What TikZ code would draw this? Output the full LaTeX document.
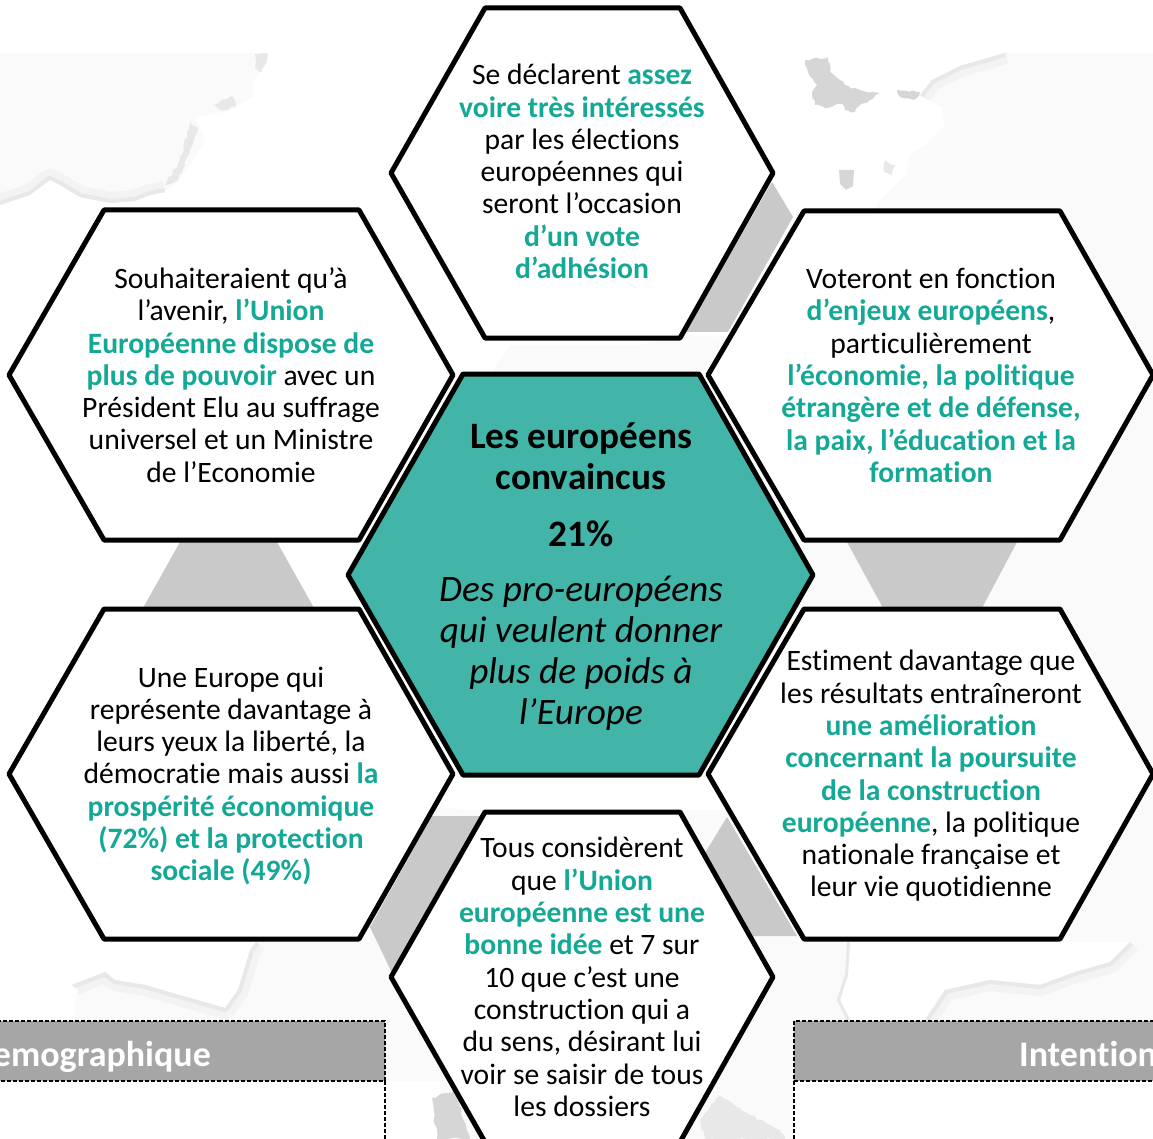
\documentclass[tikz,border=0pt]{standalone}
\usepackage{fontspec}
\usetikzlibrary{decorations.pathmorphing}
\setmainfont{Carlito}[Ligatures=NoCommon]
\definecolor{tealtxt}{HTML}{14A896}
\definecolor{tealfill}{HTML}{42B4A8}
\definecolor{barfill}{HTML}{A6A6A6}
\definecolor{linkfill}{HTML}{C9C9C9}
\definecolor{land}{HTML}{FAFAFA}
\definecolor{coastwide}{HTML}{F3F3F3}
\definecolor{coast}{HTML}{E8E8E8}
\definecolor{coastd}{HTML}{D6D6D6}
\newcommand\hl[1]{{\bfseries\color{tealtxt}#1}}
\tikzset{
 hexa/.style={draw=black,line width=5pt,line join=round,fill=white},
 hexb/.style={draw=black,line width=5pt,line join=round,fill=tealfill},
 link/.style={fill=linkfill,draw=none},
 rough/.style={decorate,decoration={random steps,segment length=4pt,amplitude=1.3pt}},
 landpart/.style={fill=land,draw=none},
 wideband/.style={draw=coastwide,line width=22pt,line join=round},
 band/.style={draw=coast,line width=8pt,line join=round},
 isle/.style={fill=coastd,draw=coastd,line width=.5pt,rough},
 bar/.style={fill=barfill,draw=black,line width=1.3pt,dash pattern=on 4pt off 2pt},
 rule/.style={draw=black,line width=1.2pt,dash pattern=on 4pt off 2pt},
 body/.style={align=center,font=\fontsize{29.6}{32.3}\selectfont,inner sep=0pt,text=black},
 bartext/.style={font=\fontsize{36}{40}\selectfont\bfseries,text=white,inner sep=0pt},
}
\def\coastA{(0,205) -- (30,195) -- (50,180) -- (60,185) -- (80,197) -- (110,203) -- (135,201) -- (150,195) -- (165,192)}
\def\coastB{(1005,53) -- (960,66) -- (932,80) -- (920,95)}
\def\coastC{(72,985) -- (105,972) -- (115,980) -- (145,985) -- (190,998) -- (225,1008) -- (238,990) -- (250,950) -- (256,942)}
\def\coastD{(925,1020) -- (945,990) -- (990,980) -- (1040,985) -- (1075,972) -- (1110,962) -- (1130,942)}
\def\coastE{(850,942) -- (848,975) -- (840,1000) -- (850,1020)}
\begin{document}
\begin{tikzpicture}[x=1pt,y=-1pt]
\useasboundingbox (0,0) rectangle (1153,1139);
\clip (0,0) rectangle (1153,1139);
% background map, upper left
\begin{scope}
\clip (0,53) -- (268,53) -- (262,70) -- (252,82) -- (255,95) -- (235,108) -- (222,112) -- (196,118) -- (205,140) -- (190,165) -- (178,182) -- (165,192) -- (150,195) -- (135,201) -- (110,203) -- (80,197) -- (60,185) -- (50,180) -- (30,195) -- (0,205) -- cycle;
\fill[land] (0,53) rectangle (270,210);
\draw[wideband] \coastA;
\draw[band] \coastA;
\end{scope}
\fill[coast,rough] (165,185) -- (180,160) -- (190,122) -- (198,128) -- (190,150) -- (178,180) -- cycle;
\fill[coast,rough] (212,105) -- (232,96) -- (236,106) -- (222,111) -- cycle;
\fill[coast,rough] (255,54) -- (268,54) -- (262,72) -- (255,68) -- cycle;
% upper right and middle land
\begin{scope}
\clip (1153,53) -- (1005,53) -- (960,66) -- (932,80) -- (920,95) -- (942,108) -- (945,125) -- (925,145) -- (910,155) -- (905,175) -- (880,200) -- (872,212) -- (800,340) -- (680,335) -- (640,345) -- (510,345) -- (490,375) -- (720,420) -- (820,700) -- (760,810) -- (470,810) -- (370,800) -- (370,1020) -- (385,1139) -- (1153,1139) -- cycle;
\fill[land] (360,50) rectangle (1153,1139);
\draw[wideband] \coastB;
\draw[band] \coastB;
\end{scope}
\fill[coastd,rough] (805,60) -- (828,57) -- (830,72) -- (845,85) -- (860,90) -- (880,93) -- (870,100) -- (860,105) -- (855,112) -- (845,110) -- (842,104) -- (825,108) -- (815,105) -- (812,92) -- (817,85) -- (808,72) -- cycle;
\fill[coastd,rough] (897,90) -- (920,92) -- (916,99) -- (900,97) -- cycle;
\fill[coastd] (839,170) -- (854,170) -- (853,186) -- (846,190) -- (840,184) -- cycle;
\fill[coast,rough] (885,160) -- (895,165) -- (892,175) -- (884,172) -- cycle;
% land lower left
\begin{scope}
\clip (72,1021) -- (78,990) -- \coastC -- (390,942) -- (390,1030) -- cycle;
\fill[land] (60,940) rectangle (390,1030);
\draw[wideband] \coastC;
\draw[band] \coastC;
\end{scope}
% bays
\fill[white] \coastE -- \coastD -- cycle;
\begin{scope}
\clip (850,942) -- (848,975) -- (840,1000) -- (850,1020) -- (790,1020) -- (790,942) -- cycle;
\draw[band,line width=6pt] \coastE;
\end{scope}
\begin{scope}
\clip \coastD -- (1153,942) -- (1153,1020) -- cycle;
\draw[wideband] \coastD;
\draw[band] \coastD;
\end{scope}
% bars and panels
\fill[white] (0,1081) rectangle (385,1139);
\fill[white] (794,1081) rectangle (1153,1139);
\fill[white] (385,1081) rectangle (440,1139);
\fill[coastd,rough] (432,1098) -- (455,1090) -- (470,1139) -- (437,1139) -- cycle;
\fill[coast,rough] (700,1120) -- (720,1095) -- (750,1115) -- (780,1130) -- (785,1139) -- (705,1139) -- cycle;
\path[bar] (-5,1021) rectangle (385,1081);
\path[bar] (794,1021) rectangle (1160,1081);
\draw[rule] (385,1081) -- (385,1142);
\draw[rule] (794,1081) -- (794,1142);
\node[bartext,anchor=base east] (barleft) at (211,1066) {emographique};
\node[bartext,anchor=base west] (barright) at (1019,1066) {Intention};
% grey links
\fill[link] (772,182) -- (793,217) -- (728,332) -- (685,332) -- cycle;
\fill[link] (180,542) -- (277,542) -- (314,608) -- (143,608) -- cycle;
\fill[link] (847,542) -- (1017,542) -- (982,608) -- (883,608) -- cycle;
\fill[link] (432,816) -- (484,816) -- (393,975) -- (370,927) -- cycle;
\fill[link] (727,817) -- (705,853) -- (753,936) -- (797,936) -- cycle;
% hexagons
\path[hexa] (485,8) -- (680,8) -- (773,173) -- (680,338) -- (485,338) -- (391,173) -- cycle;
\path[hexa] (104,210) -- (359,210) -- (453,375) -- (359,540) -- (104,540) -- (9,375) -- cycle;
\path[hexa] (804,211) -- (1060,211) -- (1153,375) -- (1060,540) -- (804,540) -- (708,375) -- cycle;
\path[hexa] (104,609) -- (359,609) -- (453,774) -- (359,939) -- (104,939) -- (9,774) -- cycle;
\path[hexa] (804,609) -- (1060,609) -- (1153,774) -- (1060,939) -- (804,939) -- (708,774) -- cycle;
\path[hexa] (485,812) -- (680,812) -- (773,977) -- (680,1142) -- (485,1142) -- (391,977) -- cycle;
\path[hexb] (463,374) -- (699,374) -- (813,575) -- (699,775) -- (463,775) -- (348,575) -- cycle;
% texts
\node[body] (ttop) at (582,171.5) {Se déclarent \hl{assez}\\\hl{voire très intéressés}\\par les élections\\européennes qui\\seront l’occasion\\\hl{d’un vote}\\\hl{d’adhésion}};
\node[body] (tleftup) at (231,375) {Souhaiteraient qu’à\\l’avenir, \hl{l’Union}\\\hl{Européenne dispose de}\\\hl{plus de pouvoir} avec un\\Président Elu au suffrage\\universel et un Ministre\\de l’Economie};
\node[body] (trightup) at (931,375.5) {Voteront en fonction\\\hl{d’enjeux européens},\\particulièrement\\\hl{l’économie, la politique}\\\hl{étrangère et de défense,}\\\hl{la paix, l’éducation et la}\\\hl{formation}};
\node[body] (tleftlow) at (231,776) {Une Europe qui\\représente davantage à\\leurs yeux la liberté, la\\démocratie mais aussi \hl{la}\\\hl{prospérité économique}\\\hl{(72\%) et la protection}\\\hl{sociale (49\%)}};
\node[body] (trightlow) at (931,776) {Estiment davantage que\\les résultats entraîneront\\\hl{une amélioration}\\\hl{concernant la poursuite}\\\hl{de la construction}\\\hl{européenne}, la politique\\nationale française et\\leur vie quotidienne};
\node[body] (tbottom) at (582,977) {Tous considèrent\\que \hl{l’Union}\\\hl{européenne est une}\\\hl{bonne idée} et 7 sur\\10 que c’est une\\construction qui a\\du sens, désirant lui\\voir se saisir de tous\\les dossiers};
\node[align=center,inner sep=0pt,font=\fontsize{37.3}{41}\selectfont\bfseries] (ctitle) at (581,456) {Les européens\\convaincus};
\node[inner sep=0pt,font=\fontsize{37.3}{41}\selectfont\bfseries] (cpct) at (581,534) {21\%};
\node[align=center,inner sep=0pt,font=\fontsize{37.3}{41}\selectfont\itshape] (csub) at (581,653) {Des pro-européens\\qui veulent donner\\plus de poids à\\l’Europe};
\end{tikzpicture}
\end{document}
